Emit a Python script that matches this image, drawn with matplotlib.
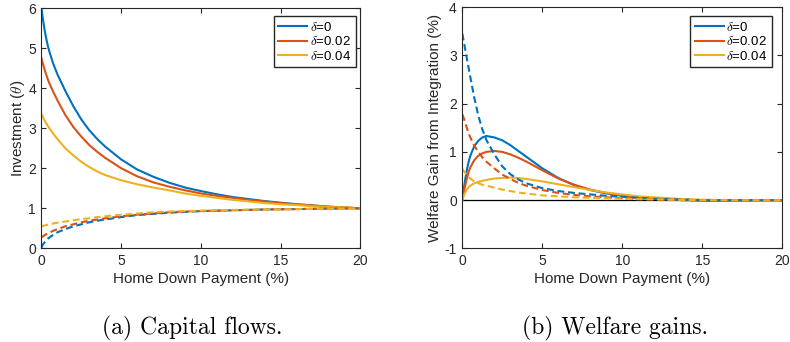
import matplotlib
matplotlib.use("Agg")
import matplotlib.pyplot as plt

# ---- data ----
x_left = [0, 0.1, 0.2, 0.3, 0.4, 0.5, 0.75, 1, 1.5, 2, 2.5, 3, 3.5, 4, 5, 6, 7, 8, 9, 10,
          11, 12, 13, 14, 15, 16, 17, 18, 19, 20]
inv_d0 = [6.0, 5.7, 5.45, 5.24, 5.06, 4.91, 4.6, 4.35, 3.93, 3.55, 3.22, 2.95, 2.73, 2.54,
          2.22, 1.97, 1.79, 1.64, 1.52, 1.43, 1.35, 1.28, 1.23, 1.18, 1.14, 1.10, 1.07, 1.04,
          1.02, 1.0]
inv_d2 = [4.75, 4.6, 4.46, 4.34, 4.22, 4.12, 3.9, 3.7, 3.33, 3.03, 2.79, 2.58, 2.41, 2.26,
          2.0, 1.8, 1.65, 1.54, 1.45, 1.37, 1.31, 1.26, 1.21, 1.17, 1.13, 1.10, 1.07, 1.04,
          1.02, 1.0]
inv_d4 = [3.35, 3.27, 3.19, 3.12, 3.06, 3.0, 2.86, 2.73, 2.5, 2.32, 2.16, 2.03, 1.92, 1.83,
          1.7, 1.6, 1.52, 1.45, 1.37, 1.31, 1.26, 1.21, 1.17, 1.13, 1.10, 1.08, 1.05, 1.03,
          1.02, 1.0]
out_d0 = [0.02, 0.1, 0.15, 0.2, 0.24, 0.27, 0.34, 0.4, 0.48, 0.55, 0.6, 0.65, 0.69, 0.72,
          0.78, 0.83, 0.86, 0.89, 0.91, 0.93, 0.94, 0.95, 0.96, 0.97, 0.975, 0.98, 0.985,
          0.99, 0.995, 1.0]
out_d2 = [0.27, 0.3, 0.33, 0.35, 0.37, 0.39, 0.44, 0.48, 0.55, 0.6, 0.65, 0.69, 0.72, 0.75,
          0.8, 0.84, 0.87, 0.9, 0.92, 0.93, 0.94, 0.95, 0.96, 0.97, 0.975, 0.98, 0.985,
          0.99, 0.995, 1.0]
out_d4 = [0.55, 0.56, 0.57, 0.58, 0.59, 0.6, 0.62, 0.64, 0.67, 0.7, 0.73, 0.75, 0.78, 0.8,
          0.84, 0.87, 0.9, 0.92, 0.93, 0.94, 0.95, 0.96, 0.965, 0.97, 0.975, 0.98, 0.985,
          0.99, 0.995, 1.0]

x_right = [0, 0.1, 0.2, 0.3, 0.4, 0.5, 0.75, 1, 1.25, 1.5, 2, 2.5, 3, 3.5, 4, 5, 6, 7, 8, 9,
           10, 11, 12, 13, 14, 15, 16, 17, 18, 19, 20]
gain_d0 = [0, 0.25, 0.47, 0.65, 0.8, 0.92, 1.12, 1.23, 1.3, 1.33, 1.3, 1.24, 1.14, 1.02,
           0.9, 0.66, 0.46, 0.31, 0.21, 0.14, 0.09, 0.05, 0.03, 0.01, 0.0, -0.01, -0.01,
           -0.01, -0.005, 0, 0]
gain_d2 = [0, 0.17, 0.33, 0.47, 0.59, 0.68, 0.83, 0.92, 0.97, 1.0, 1.02, 1.0, 0.95, 0.88,
           0.8, 0.62, 0.45, 0.32, 0.22, 0.15, 0.1, 0.06, 0.04, 0.02, 0.01, 0.0, 0, 0, 0, 0, 0]
gain_d4 = [0, 0.1, 0.17, 0.23, 0.27, 0.3, 0.35, 0.38, 0.4, 0.42, 0.45, 0.46, 0.47, 0.46,
           0.44, 0.39, 0.33, 0.27, 0.21, 0.16, 0.12, 0.08, 0.06, 0.04, 0.02, 0.01, 0.005,
           0, 0, 0, 0]
gain_out_d0 = [3.45, 3.27, 3.09, 2.91, 2.73, 2.55, 2.12, 1.75, 1.47, 1.25, 0.95, 0.7, 0.54,
               0.43, 0.35, 0.25, 0.19, 0.15, 0.12, 0.09, 0.07, 0.05, 0.03, 0.02, 0.01, 0.0,
               0, 0, 0, 0, 0]
gain_out_d2 = [1.78, 1.69, 1.58, 1.48, 1.38, 1.3, 1.13, 1.0, 0.89, 0.8, 0.66, 0.53, 0.44,
               0.36, 0.3, 0.21, 0.15, 0.11, 0.08, 0.06, 0.04, 0.03, 0.02, 0.01, 0.0, 0,
               0, 0, 0, 0, 0]
gain_out_d4 = [0.65, 0.6, 0.56, 0.52, 0.48, 0.45, 0.39, 0.35, 0.32, 0.3, 0.26, 0.22, 0.19,
               0.16, 0.14, 0.1, 0.08, 0.06, 0.05, 0.04, 0.03, 0.02, 0.015, 0.01, 0.005, 0,
               0, 0, 0, 0, 0]

labels = [r'$\delta$=0', r'$\delta$=0.02', r'$\delta$=0.04']
colors = ['#0072BD', '#D95319', '#EDB120']
dash = (0, (3.3, 1.8))

plt.rcParams['font.family'] = 'Liberation Sans'
plt.rcParams['mathtext.fontset'] = 'cm'
plt.rcParams['axes.unicode_minus'] = False

fig = plt.figure(figsize=(7.9, 3.42), dpi=100)
ax1 = fig.add_axes([0.0525, 0.274, 0.4038, 0.7018])
ax2 = fig.add_axes([0.5852, 0.2734, 0.405, 0.706])

# left panel: capital flows
for ys, c, lab in zip([inv_d0, inv_d2, inv_d4], colors, labels):
    ax1.plot(x_left, ys, color=c, lw=1.5, label=lab)
for ys, c in zip([out_d0, out_d2, out_d4], colors):
    ax1.plot(x_left, ys, color=c, lw=1.5, ls=dash)
ax1.set_xlim(0, 20)
ax1.set_ylim(0, 6)
ax1.set_xticks([0, 5, 10, 15, 20])
ax1.set_yticks(range(0, 7))
ax1.set_xlabel('Home Down Payment (%)', fontsize=11, color='#262626', labelpad=3)
ax1.set_ylabel(r'Investment ($\theta$)', fontsize=11, color='#262626', labelpad=1)
ax1.legend(loc='upper right', bbox_to_anchor=(0.985, 0.968), borderaxespad=0,
           fontsize=9.5, handlelength=2.2, handletextpad=0.2, labelspacing=0.12,
           borderpad=0.35, fancybox=False, edgecolor='#262626', framealpha=1)

# right panel: welfare gains
ax2.axhline(0, color='black', lw=0.9)
for ys, c, lab in zip([gain_d0, gain_d2, gain_d4], colors, labels):
    ax2.plot(x_right, ys, color=c, lw=1.5, label=lab)
for ys, c in zip([gain_out_d0, gain_out_d2, gain_out_d4], colors):
    ax2.plot(x_right, ys, color=c, lw=1.5, ls=dash)
ax2.set_xlim(0, 20)
ax2.set_ylim(-1, 4)
ax2.set_xticks([0, 5, 10, 15, 20])
ax2.set_yticks(range(-1, 5))
ax2.set_xlabel('Home Down Payment (%)', fontsize=11, color='#262626', labelpad=3)
ax2.set_ylabel('Welfare Gain from Integration (%)', fontsize=11, color='#262626', labelpad=2)
ax2.legend(loc='upper right', bbox_to_anchor=(0.968, 0.963), borderaxespad=0,
           fontsize=9.5, handlelength=2.2, handletextpad=0.2, labelspacing=0.12,
           borderpad=0.35, fancybox=False, edgecolor='#262626', framealpha=1)

for ax in (ax1, ax2):
    for s in ax.spines.values():
        s.set_color('#262626')
        s.set_linewidth(0.8)
    ax.tick_params(direction='in', length=3.5, width=0.8, top=True, right=True,
                   labelsize=10, colors='#262626', pad=4)

# subfigure captions
fig.text(0.2437, 0.04, '(a) Capital flows.', family='cmr10', fontsize=17,
         ha='center', va='center')
fig.text(0.7785, 0.04, '(b) Welfare gains.', family='cmr10', fontsize=17,
         ha='center', va='center')

fig.savefig('out.png', dpi=100)
